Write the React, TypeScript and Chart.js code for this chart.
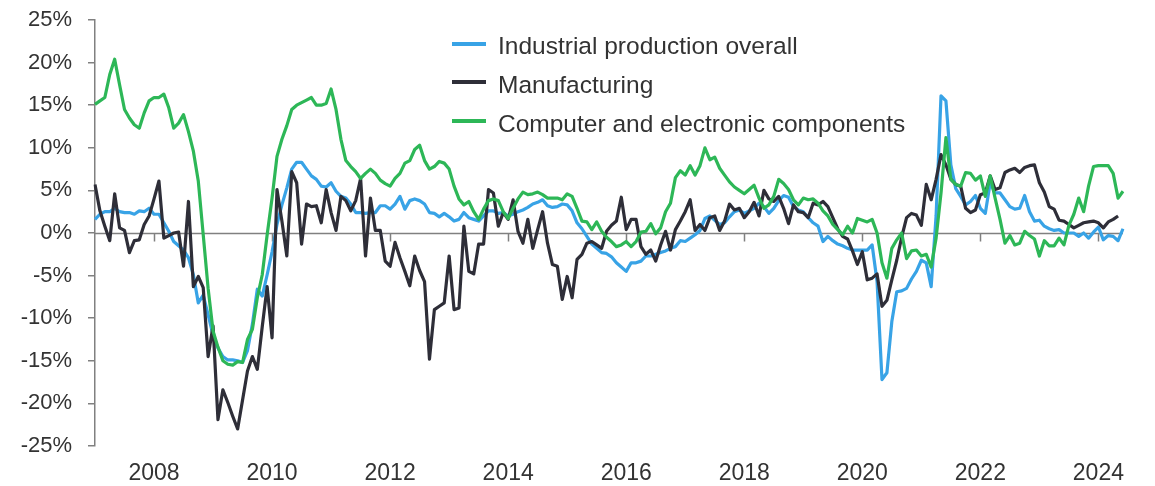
import { useEffect, useRef } from "react";
import { Chart, registerables } from "chart.js";

Chart.register(...registerables);

// ---- data (year-on-year % change, monthly from Jan 2007) ----
const START_YEAR = 2007;
const N_MONTHS = 210;

const SERIES_NAMES = [
  "Industrial production overall",
  "Manufacturing",
  "Computer and electronic components",
];
const SERIES_COLORS = ["#38a3e6", "#2e2e38", "#2db757"];

const INDUSTRIAL = [
  1.6, 2.2, 2.5, 2.5, 2.9, 2.5, 2.4, 2.4, 2.2, 2.6, 2.5, 2.9,
  2.2, 2.2, 1.2, 0.2, -1.0, -1.5, -2.0, -2.9, -4.9, -8.2, -7.3, -9.6,
  -12.0, -13.5, -14.5, -14.9, -14.9, -15.0, -15.2, -13.8, -10.7, -6.6, -7.4, -4.9,
  -2.2, 1.0, 3.3, 5.3, 7.5, 8.3, 8.3, 7.5, 6.7, 6.3, 5.5, 5.4,
  5.9, 4.9, 4.3, 4.1, 3.4, 2.4, 2.4, 2.3, 2.4, 2.4, 3.2, 3.2,
  2.8, 3.4, 4.3, 2.8, 3.8, 4.0, 3.8, 3.4, 2.4, 2.3, 1.9, 2.3,
  1.9, 1.4, 1.6, 2.4, 1.8, 1.6, 1.4, 2.0, 2.6, 2.6, 2.3, 2.4,
  2.0, 2.2, 2.5, 2.7, 3.0, 3.4, 3.6, 3.9, 3.2, 3.0, 3.1, 3.4,
  3.3, 2.6, 1.2, 0.5, -0.4, -1.3, -1.8, -2.3, -2.4, -2.8, -3.5, -4.0,
  -4.5, -3.5, -3.5, -3.3, -2.7, -2.7, -2.5, -2.3, -2.1, -1.8, -1.6, -0.9,
  -1.0, -0.6, -0.2, 0.3, 1.7, 2.0, 1.5, 1.0, 1.2, 1.9, 2.5, 2.7,
  2.3, 2.6, 2.9, 3.5, 3.1, 2.3, 2.9, 3.8, 4.4, 4.2, 3.1, 2.7,
  2.5, 1.8, 1.2, 0.8, -1.0, -0.4, -0.9, -1.3, -1.5, -1.8, -2.0, -2.0,
  -2.0, -2.0, -1.4, -5.7, -17.2, -16.4, -10.4, -6.9, -6.8, -6.5, -5.4, -4.5,
  -3.2, -3.5, -6.3, 2.0, 16.1, 15.5, 8.0, 5.2, 4.3, 3.3, 3.7, 4.4,
  2.9, 2.3, 5.9, 4.7, 4.7, 3.9, 3.1, 2.8, 2.9, 4.4, 2.5, 1.4,
  1.5, 0.8, 0.5, 0.3, 0.4, 0.0, 0.0, 0.0, -0.4, 0.0, -0.6, 0.1,
  0.7, -0.8, -0.3, -0.4, -0.9, 0.5,
];

const MANUFACTURING: (number | null)[] = [
  5.7, 2.6, 0.8, -0.9, 4.6, 0.6, 0.3, -2.3, -0.9, -0.8, 1.0, 2.0,
  4.0, 6.1, -0.6, -0.3, 0.0, 0.1, -3.9, 3.7, -6.3, -5.1, -6.4, -14.5,
  -10.9, -21.9, -18.4, -19.9, -21.5, -23.0, -19.6, -16.2, -14.5, -16.0, -11.0, -6.3,
  -12.3, 5.1, 1.4, -2.7, 7.2, 5.9, -1.3, 3.4, 3.1, 3.2, 1.2, 5.1,
  2.4, 0.3, 4.3, 3.8, 2.6, 3.8, 6.4, -2.7, 4.1, 0.3, 0.3, -3.3,
  -3.9, -1.1, -2.9, -4.5, -6.2, -2.7, -4.4, -5.7, -14.8, -9.0, -8.6, -8.2,
  -2.7, -9.0, -8.8, 0.8, -4.5, -4.8, -1.3, -1.3, 5.1, 4.7, 0.8, 2.4,
  1.6, 3.9, 0.2, -1.2, 1.6, -1.8, 0.4, 2.5, -1.2, -3.7, -3.9, -7.8,
  -5.1, -7.6, -3.1, -2.5, -1.2, -1.0, -1.4, -1.8, 0.2, 0.9, 1.4, 4.2,
  0.4, 1.6, 1.6, -1.6, -2.5, -2.0, -3.3, -1.4, 0.2, -2.0, 0.4, 1.4,
  2.5, 3.9, 0.3, 1.0, 0.3, 1.8, 2.0, 0.3, 1.4, 3.4, 2.7, 2.9,
  1.8, 2.5, 3.6, 2.0, 5.0, 4.0, 3.7, 4.3, 2.9, 1.1, 3.3, 2.5,
  2.4, 1.8, 3.5, 3.3, 3.7, 3.1, 1.8, 0.5, -0.4, -0.7, -2.1, -3.7,
  -2.2, -5.5, -5.3, -4.8, -8.6, -7.9, -5.5, -3.2, -0.5, 1.8, 2.3, 2.1,
  0.9, 5.7, 3.9, 6.3, 9.2, 8.0, 6.3, 5.7, 5.5, 2.9, 2.4, 2.7,
  4.5, 4.7, 6.7, 5.1, 5.3, 7.1, 7.4, 7.6, 7.1, 7.7, 7.9, 8.0,
  5.9, 4.8, 3.1, 2.8, 1.5, 1.4, 1.0, 0.6, 0.9, 1.2, 1.3, 1.4,
  1.2, 0.6, 1.3, 1.6, 2.0, null,
];

const COMPUTER = [
  15.1, 15.5, 15.9, 18.6, 20.4, 17.4, 14.5, 13.5, 12.7, 12.3, 14.1, 15.5,
  15.9, 15.9, 16.3, 14.7, 12.3, 12.9, 13.9, 11.9, 9.6, 6.1, -0.2, -6.5,
  -11.5, -13.4, -15.0, -15.4, -15.5, -15.1, -15.2, -12.5, -11.3, -7.6, -4.9, -0.2,
  4.1, 9.0, 11.0, 12.6, 14.5, 15.0, 15.3, 15.6, 15.9, 15.0, 15.0, 15.2,
  16.9, 14.5, 11.0, 8.5, 7.8, 7.2, 6.4, 7.0, 7.5, 7.0, 6.2, 5.8,
  5.5, 6.4, 7.0, 8.2, 8.5, 9.8, 10.3, 8.5, 7.5, 7.8, 8.4, 8.2,
  7.5, 5.5, 4.0, 3.3, 3.7, 2.5, 1.6, 2.8, 3.8, 4.0, 3.8, 2.5,
  1.7, 2.9, 4.0, 4.8, 4.5, 4.6, 4.8, 4.5, 4.1, 4.1, 4.1, 3.9,
  4.6, 4.3, 2.9, 1.4, 1.3, 0.4, 1.3, 0.2, -0.5, -1.0, -1.6, -1.4,
  -1.0, -1.6, -1.0, 0.1, 0.2, 1.1, -0.1, 0.6, 2.5, 3.5, 6.5, 7.3,
  6.8, 7.9, 6.8, 7.9, 10.0, 8.6, 8.9, 7.6, 6.8, 6.0, 5.4, 5.0,
  4.6, 5.1, 5.6, 4.1, 2.9, 3.3, 4.3, 6.3, 5.8, 5.1, 3.9, 3.3,
  4.1, 3.9, 4.0, 3.5, 2.6, 2.0, 1.0, 0.4, -0.2, 0.8, 0.0, 1.7,
  1.5, 1.3, 1.6, 0.0, -3.5, -5.3, -1.8, -0.8, 0.0, -3.0, -2.1, -2.0,
  -2.7, -2.5, -4.0, -0.6, 4.7, 11.2, 6.3, 5.7, 5.5, 7.1, 7.0, 6.2,
  6.7, 4.3, 6.7, 4.1, 1.6, -1.2, -0.3, -1.4, -1.2, 0.2, -0.3, -0.7,
  -2.7, -0.9, -1.5, -1.5, -0.6, -1.4, 0.9, 2.2, 4.1, 2.5, 5.5, 7.8,
  7.9, 7.9, 7.9, 7.0, 4.1, 4.9,
];

const Y_MIN = -25;
const Y_MAX = 25;
const Y_STEP = 5;

// month categories "YYYY-MM"
const MONTHS: string[] = [];
for (let k = 0; k < N_MONTHS; k++) {
  const y = START_YEAR + Math.floor(k / 12);
  const m = (k % 12) + 1;
  MONTHS.push(`${y}-${m < 10 ? "0" + m : m}`);
}
const isLabelledMonth = (lab: string) =>
  lab.endsWith("-01") && parseInt(lab.slice(0, 4), 10) % 2 === 0;
const TICK_INDEXES = MONTHS.map((l, i) => (isLabelledMonth(l) ? i : -1)).filter((i) => i >= 0);

const FONT = '"Liberation Sans", Arial, sans-serif';
const TEXT_COLOR = "#333333";
const AXIS_COLOR = "#808080";

const zeroLinePlugin = {
  id: "zeroLine",
  beforeDatasetsDraw(chart: any) {
    const { ctx, chartArea, scales } = chart;
    const y0 = Math.round(scales.y.getPixelForValue(0)) + 0.5;
    ctx.save();
    ctx.strokeStyle = AXIS_COLOR;
    ctx.lineWidth = 1.5;
    ctx.beginPath();
    ctx.moveTo(chartArea.left, y0);
    ctx.lineTo(chartArea.right, y0);
    TICK_INDEXES.forEach((i) => {
      const px = Math.round(scales.x.getPixelForValue(i)) + 0.5;
      ctx.moveTo(px, y0);
      ctx.lineTo(px, y0 + 8);
    });
    ctx.stroke();
    ctx.restore();
  },
};

export default function App() {
  const ref = useRef<HTMLCanvasElement>(null);

  useEffect(() => {
    const seriesData = [INDUSTRIAL, MANUFACTURING, COMPUTER];
    const orders = [2, 1, 0];
    const chart = new Chart(ref.current as HTMLCanvasElement, {
      type: "line",
      data: {
        labels: MONTHS,
        datasets: seriesData.map((d, k) => ({
          label: SERIES_NAMES[k],
          data: d as any,
          borderColor: SERIES_COLORS[k],
          backgroundColor: SERIES_COLORS[k],
          borderWidth: 3.2,
          pointRadius: 0,
          tension: 0,
          fill: false,
          order: orders[k],
          borderJoinStyle: "round" as const,
        })),
      },
      options: {
        animation: false,
        responsive: false,
        devicePixelRatio: 1,
        layout: { padding: { left: 0, right: 32, top: 20, bottom: 0 } },
        plugins: { legend: { display: false }, tooltip: { enabled: false } },
        scales: {
          x: {
            type: "category",
            grid: { display: false, drawTicks: false },
            border: { display: false },
            ticks: {
              autoSkip: false,
              maxRotation: 0,
              minRotation: 0,
              padding: 14,
              color: TEXT_COLOR,
              font: { family: FONT, size: 23 },
              callback: function (this: any, value: any) {
                const lab = this.getLabelForValue(value);
                return isLabelledMonth(lab) ? lab.slice(0, 4) : "";
              },
            },
            afterFit: (s: any) => {
              s.height = 40;
              s.paddingLeft = 0;
              s.paddingRight = 0;
            },
          },
          y: {
            min: Y_MIN,
            max: Y_MAX,
            grid: {
              drawOnChartArea: false,
              drawTicks: true,
              tickLength: 7,
              color: AXIS_COLOR,
              lineWidth: 1.5,
            },
            border: { display: true, color: AXIS_COLOR, width: 1.5 },
            ticks: {
              stepSize: Y_STEP,
              padding: 16,
              color: TEXT_COLOR,
              font: { family: FONT, size: 22 },
              callback: (v: any) => `${v}%`,
            },
            afterFit: (s: any) => {
              s.width = 95;
              s.paddingTop = 0;
              s.paddingBottom = 0;
            },
          },
        },
      },
      plugins: [zeroLinePlugin],
    });
    return () => chart.destroy();
  }, []);

  const swatchCenters = [43.5, 82, 121];
  const textBaselines = [54, 93, 132];

  return (
    <div
      style={{
        position: "fixed",
        left: 0,
        top: 0,
        width: 1155,
        height: 486,
        background: "#ffffff",
        overflow: "hidden",
      }}
    >
      <canvas ref={ref} width={1155} height={486} style={{ display: "block" }} />
      {SERIES_NAMES.map((name, k) => (
        <div key={name}>
          <div
            style={{
              position: "absolute",
              left: 452,
              top: swatchCenters[k] - 2,
              width: 34,
              height: 4,
              background: SERIES_COLORS[k],
            }}
          />
          <div
            style={{
              position: "absolute",
              left: 498,
              top: textBaselines[k] - 23.5,
              height: 30,
              lineHeight: "30px",
              fontFamily: FONT,
              fontSize: 24.5,
              color: TEXT_COLOR,
              whiteSpace: "nowrap",
            }}
          >
            {name}
          </div>
        </div>
      ))}
    </div>
  );
}
